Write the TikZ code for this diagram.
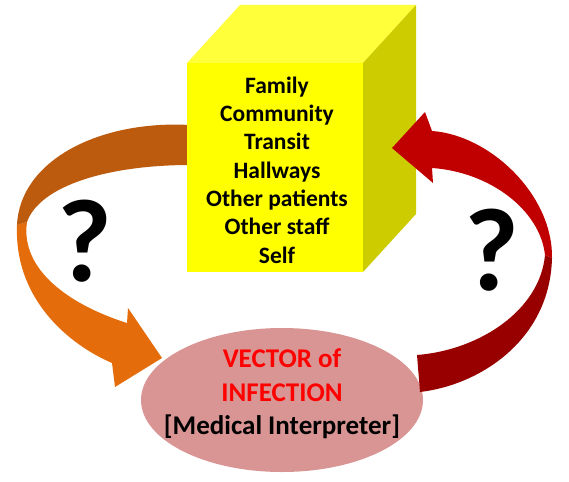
\documentclass[tikz,border=0pt]{standalone}
\usepackage{fontspec}
\setmainfont{Carlito}
\definecolor{cubefront}{HTML}{FFFF00}
\definecolor{cubetop}{HTML}{FFFF3A}
\definecolor{cubeside}{HTML}{CCCC00}
\definecolor{orlight}{HTML}{E46C0A}
\definecolor{ordark}{HTML}{BC5A0E}
\definecolor{rdlight}{HTML}{C00000}
\definecolor{rddark}{HTML}{980000}
\definecolor{ellfill}{HTML}{D99594}
\begin{document}
\begin{tikzpicture}[x=1pt,y=-1pt,
  qmark/.style={font=\bfseries\fontsize{118}{118}\selectfont, inner sep=0pt}]
\useasboundingbox (0,0) rectangle (569,481);
% left ribbon arrow (orange)
\fill[orlight] (17,225) .. controls (14,300) and (70,345) .. (112,363)
  -- (115,387) -- (162,358) -- (128,308) -- (127,323)
  .. controls (70,305) and (20,270) .. (27,222) -- cycle;
\fill[ordark] (190,125) .. controls (100,120) and (20,160) .. (17,225)
  -- (27,222) .. controls (40,185) and (110,165) .. (190,165) -- cycle;
% ellipse
\fill[ellfill] (282,400) ellipse [x radius=141, y radius=72];
\node[align=center, inner sep=0pt, font=\bfseries\fontsize{27}{33.5}\selectfont] (vec) at (282,394)
  {\textcolor{red}{VECTOR of}\\\textcolor{red}{INFECTION}\\{[Medical Interpreter]}};
% cube
\fill[cubetop] (187,63) -- (240,5) -- (416,5) -- (363,63) -- cycle;
\fill[cubeside] (363,63) -- (416,5) -- (416,214) -- (363,272) -- cycle;
\fill[cubefront] (187,63) rectangle (363,272);
\node[align=center, inner sep=0pt, font=\bfseries\fontsize{23.5}{28.3}\selectfont] (list) at (277,170)
  {Family\\Community\\Transit\\Hallways\\Other patients\\Other staff\\Self};
% right ribbon arrow (red), in front of the cube
\fill[rddark] (420,392) .. controls (480,385) and (550,340) .. (552,258)
  -- (545,255) .. controls (540,310) and (480,350) .. (417,355) -- cycle;
\fill[rdlight] (552,258) .. controls (553,195) and (490,135) .. (432,131)
  -- (425,112) -- (392,148) -- (433,183) -- (432,168)
  .. controls (490,172) and (540,210) .. (545,255) -- cycle;
% question marks
\node[qmark] (q1) at (85,241) {?};
\node[qmark] (q2) at (492,250) {?};
\end{tikzpicture}
\end{document}
